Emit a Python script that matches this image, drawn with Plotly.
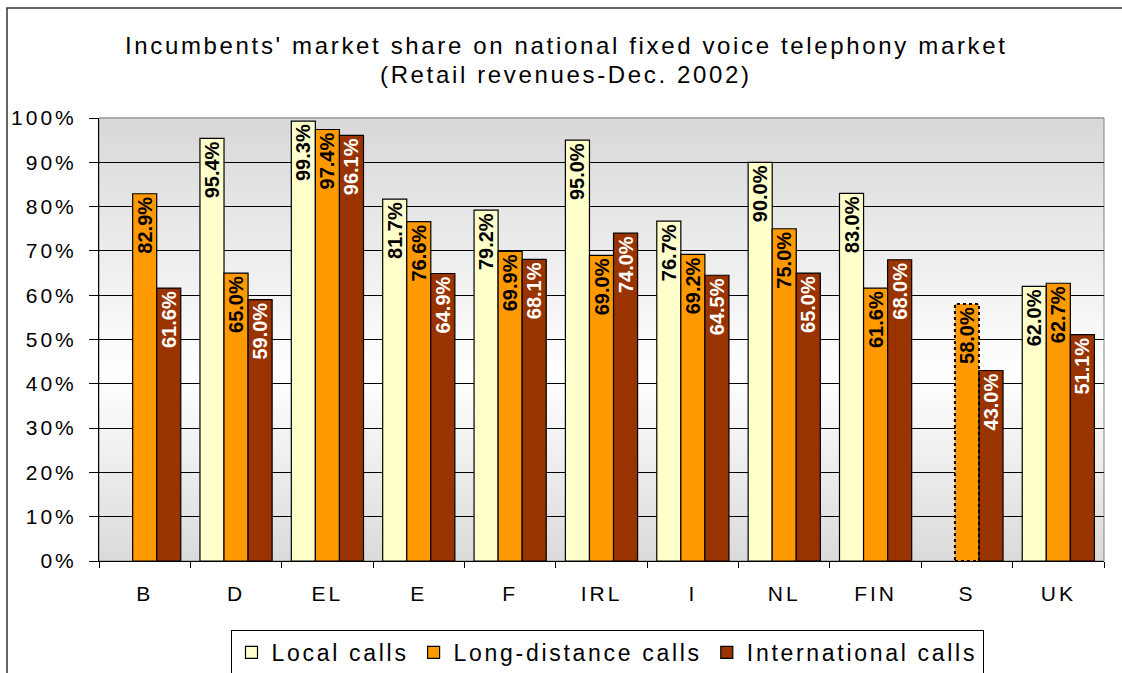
import plotly.graph_objects as go

# Incumbents' retail revenue share, Dec. 2002 (percent)
countries = ["B", "D", "EL", "E", "F", "IRL", "I", "NL", "FIN", "S", "UK"]
local_calls = [None, 95.4, 99.3, 81.7, 79.2, 95.0, 76.7, 90.0, 83.0, None, 62.0]
long_distance_calls = [82.9, 65.0, 97.4, 76.6, 69.9, 69.0, 69.2, 75.0, 61.6, 58.0, 62.7]
international_calls = [61.6, 59.0, 96.1, 64.9, 68.1, 74.0, 64.5, 65.0, 68.0, 43.0, 51.1]
y_ticks = list(range(0, 101, 10))
series_names = ["Local calls", "Long-distance calls", "International calls"]
title_lines = ["Incumbents' market share on national fixed voice telephony market",
               "(Retail revenues-Dec. 2002)"]
estimated_bar = "S"  # long-distance value drawn with a dotted outline

FONT = "Liberation Sans, Arial, sans-serif"
BAR_GAP = 0.21

# plot area geometry in pixels (used to place paper-referenced items)
PLOT_L, PLOT_R, PLOT_T, PLOT_B = 99, 1104, 118, 561
PW, PH = PLOT_R - PLOT_L, PLOT_B - PLOT_T


def px_x(px):
    return (px - PLOT_L) / PW


def px_y(py):
    return (PLOT_B - py) / PH


def spaced(s, px):
    return f"<span style='letter-spacing:{px}px'>{s}</span>"


def labels(vals):
    return ["" if v is None else f"{v:.1f}%" for v in vals]


fig = go.Figure()

# vertical grey-white-grey gradient behind the plot area
stops = [(0.0, 218), (0.42, 255), (1.0, 216)]


def shade(t):
    for (t0, c0), (t1, c1) in zip(stops[:-1], stops[1:]):
        if t0 <= t <= t1:
            return round(c0 + (c1 - c0) * (t - t0) / (t1 - t0))
    return stops[-1][1]


n_strips = 110
for k in range(n_strips):
    t0, t1 = k / n_strips, (k + 1) / n_strips
    c = shade((t0 + t1) / 2)
    fig.add_shape(type="rect", xref="paper", yref="paper", x0=0, x1=1,
                  y0=t0, y1=t1 + 0.002, layer="below",
                  fillcolor=f"rgb({c},{c},{c})", line=dict(width=0))

colors = ["#FFFFCC", "#FF9900", "#993300"]
text_colors = ["black", "black", "white"]
all_series = [local_calls, long_distance_calls, international_calls]

for name, vals, col, tcol in zip(series_names, all_series, colors, text_colors):
    line_w = [1.2] * len(vals)
    if vals is long_distance_calls:
        line_w[countries.index(estimated_bar)] = 0
    fig.add_trace(go.Bar(
        x=countries, y=vals, name=spaced(name, 2.7),
        marker=dict(color=col, line=dict(color="black", width=line_w)),
        text=labels(vals), textposition="inside", insidetextanchor="end",
        textangle=-90,
        textfont=dict(family=FONT, size=20, color=tcol, weight="bold"),
        cliponaxis=False,
    ))

# dotted outline for the estimated long-distance bar
i_s = countries.index(estimated_bar)
w = (1 - BAR_GAP) / 3
fig.add_shape(type="rect", xref="x", yref="y",
              x0=i_s - w / 2, x1=i_s + w / 2, y0=0, y1=long_distance_calls[i_s],
              line=dict(color="black", width=2, dash="dot"), layer="above")

# plot-area border
fig.add_shape(type="rect", xref="paper", yref="paper", x0=0, x1=1, y0=0, y1=1,
              line=dict(color="#808080", width=1), layer="below")

# outer chart frame
fig.add_shape(type="rect", xref="paper", yref="paper",
              x0=px_x(7), x1=1.2, y0=-0.5, y1=px_y(8),
              line=dict(color="#333333", width=1.5), layer="below")

# two-line chart title
for line, cy in zip(title_lines, [45, 74.5]):
    fig.add_annotation(text=spaced(line, 2.65), xref="paper", yref="paper",
                       x=px_x(566), y=px_y(cy), xanchor="center", yanchor="middle",
                       showarrow=False,
                       font=dict(family=FONT, size=24, color="black"))

fig.update_layout(
    width=1122, height=673,
    margin=dict(l=PLOT_L, r=1122 - PLOT_R, t=PLOT_T, b=673 - PLOT_B,
                autoexpand=False),
    paper_bgcolor="white", plot_bgcolor="rgba(0,0,0,0)",
    barmode="group", bargap=BAR_GAP, bargroupgap=0,
    uniformtext=dict(minsize=20, mode="show"),
    font=dict(family=FONT, color="black"),
    showlegend=True,
    legend=dict(orientation="h", x=px_x(607), xanchor="center",
                y=px_y(630), yanchor="top",
                bordercolor="black", borderwidth=1, bgcolor="white",
                font=dict(family=FONT, size=23, color="black"),
                traceorder="normal"),
)

fig.update_xaxes(
    tickmode="array", tickvals=countries,
    ticktext=[spaced(c, 3) for c in countries],
    tickfont=dict(family=FONT, size=21, color="black"),
    showline=True, linecolor="black", linewidth=1,
    ticks="outside", tickson="boundaries", ticklen=6, tickcolor="black",
    showgrid=False, ticklabelstandoff=14,
)
fig.update_yaxes(
    range=[0, 100], tickmode="array", tickvals=y_ticks,
    ticktext=[spaced(f"{v}%", 3) for v in y_ticks],
    tickfont=dict(family=FONT, size=21, color="black"),
    showline=True, linecolor="black", linewidth=1,
    ticks="outside", ticklen=9, tickcolor="black",
    showgrid=True, gridcolor="black", gridwidth=1,
    zeroline=False, ticklabelstandoff=8,
)

fig.write_html("out.html")
